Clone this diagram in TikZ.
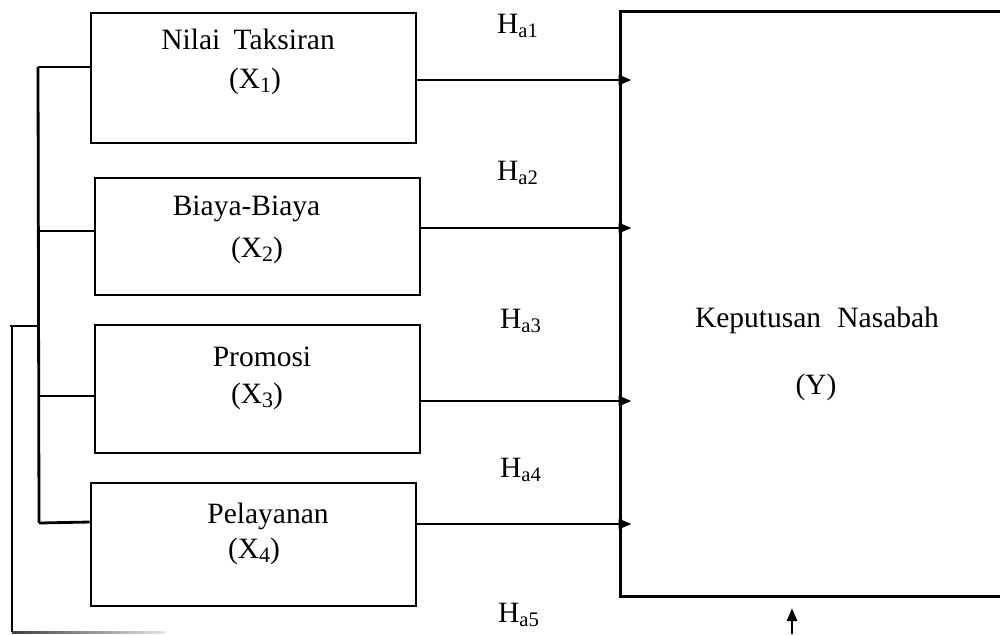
\documentclass[tikz,border=0pt]{standalone}
\usepackage{fontspec}
\setmainfont{Liberation Serif}
\usetikzlibrary{arrows.meta}
% lowered, fairly large subscript index for the variable names
\newcommand{\varidx}[1]{\raisebox{-0.32ex}{\fontsize{11}{11}\selectfont #1}}
\begin{document}
\begin{tikzpicture}[x=0.5pt,y=-0.5pt,
  line width=1.4pt,
  box/.style={draw, rectangle, inner sep=0pt, minimum width=162.5pt},
  lbl/.style={anchor=base, inner sep=0pt, font=\fontsize{14.75}{17}\selectfont},
  arr/.style={-{Triangle[length=6.5pt,width=5pt]}}]
\useasboundingbox (0,0) rectangle (1000,634);

% predictor boxes
\node[box, minimum height=65pt]   (b1) at (253.5,78)   {};
\node[box, minimum height=58.5pt] (b2) at (257.5,236.5) {};
\node[box, minimum height=64pt]   (b3) at (257.5,389)  {};
\node[box, minimum height=61.5pt] (b4) at (253.5,544.5) {};

% box captions
\node[lbl] (t1) at (248,49)  {Nilai\hspace{0.45em}Taksiran};
\node[lbl] (s1) at (255,88)  {(X\varidx{1})};
\node[lbl] (t2) at (246.5,215) {Biaya-Biaya};
\node[lbl] (s2) at (257,257) {(X\varidx{2})};
\node[lbl] (t3) at (262,366) {Promosi};
\node[lbl] (s3) at (257,403) {(X\varidx{3})};
\node[lbl] (t4) at (268,523) {Pelayanan};
\node[lbl] (s4) at (254,558) {(X\varidx{4})};

% dependent variable box (open to the right)
\node[inner sep=0pt, minimum width=190.5pt, minimum height=291pt] (Y) at (812.5,304) {};
\draw (Y.north east) -- (Y.north west) -- (Y.south west) -- (Y.south east);
\node[lbl] (ty) at (817,327) {Keputusan\hspace{0.55em}Nasabah};
\node[lbl] (sy) at (816,394) {(Y)};

% hypothesis arrows
\draw[arr, shorten >=-5.5pt] (b1.east |- 0,80)  -- (Y.west |- 0,80);
\draw[arr, shorten >=-5.5pt] (b2.east |- 0,228) -- (Y.west |- 0,228);
\draw[arr, shorten >=-5.5pt] (b3.east |- 0,401) -- (Y.west |- 0,401);
\draw[arr, shorten >=-5.5pt, shorten <=-5pt] ([xshift=5pt]b4.east |- 0,524) -- (Y.west |- 0,524);

% hypothesis labels
\node[lbl] (h1) at (518,33)  {H\textsubscript{a1}};
\node[lbl] (h2) at (518,180) {H\textsubscript{a2}};
\node[lbl] (h3) at (521,328) {H\textsubscript{a3}};
\node[lbl] (h4) at (521,477) {H\textsubscript{a4}};
\node[lbl] (h5) at (519,622) {H\textsubscript{a5}};

% simultaneous link on the left
\coordinate (bt) at (38,67);
\coordinate (bb) at (39,523);
\draw (bt) -- (bb);
\draw (bt) -- (b1.west |- bt);
\draw (38,231) -- (b2.west |- 0,231);
\draw (38,396) -- (b3.west |- 0,396);
\draw (bb) -- (b4.west |- 0,522);

\coordinate (oa) at (10,326);
\coordinate (ob) at (12,632);
\draw (oa) -- (38,326);
\draw (12,326) -- (ob);
\shade[left color=black!75, right color=black!10] (12,631) rectangle (165,633.5);

% joint arrow into Y
\coordinate (u0) at (792,634);
\coordinate (u1) at (792,608);
\draw[arr] (u0) -- (u1);
\end{tikzpicture}
\end{document}
